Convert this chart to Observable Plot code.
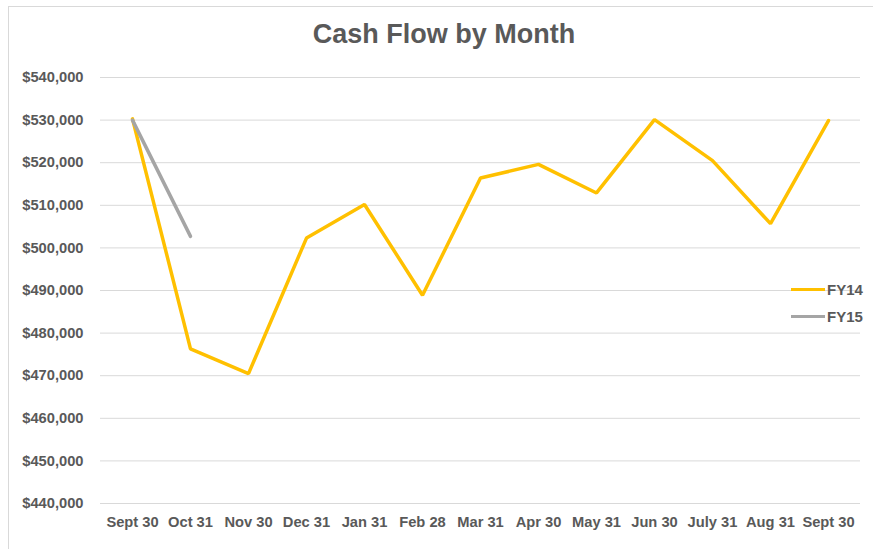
<!DOCTYPE html>
<html>
<head>
<meta charset="utf-8">
<script src="https://cdn.jsdelivr.net/npm/d3@7"></script>
<script src="https://cdn.jsdelivr.net/npm/@observablehq/plot@0.6"></script>
<style>
  html, body { margin: 0; padding: 0; background: #fff; }
  body { width: 873px; height: 549px; position: relative; overflow: hidden; font-family: "Liberation Sans", Arial, sans-serif; }
  #frame { position: absolute; left: 8px; top: 6px; width: 900px; height: 600px; border-left: 1px solid #d9d9d9; border-top: 1px solid #d9d9d9; box-sizing: border-box; }
  #title { position: absolute; left: 0; top: 19px; width: 888px; text-align: center; font-size: 27px; font-weight: bold; color: #595959; }
  #chart { position: absolute; left: 0; top: 0; }
  .leg { position: absolute; left: 791px; font-size: 15px; font-weight: bold; color: #595959; display: flex; align-items: center; }
  .leg span.sw { display: inline-block; width: 34px; height: 3.5px; margin-right: 2px; }
</style>
</head>
<body>
<div id="frame"></div>
<div id="chart"></div>
<div id="title">Cash Flow by Month</div>
<div class="leg" style="top:281px"><span class="sw" style="background:#FFC000"></span>FY14</div>
<div class="leg" style="top:308px"><span class="sw" style="background:#A5A5A5"></span>FY15</div>
<script>
const months = ["Sept 30","Oct 31","Nov 30","Dec 31","Jan 31","Feb 28","Mar 31","Apr 30","May 31","Jun 30","July 31","Aug 31","Sept 30"];
const fy14 = [530300, 476300, 470500, 502300, 510200, 488900, 516400, 519600, 512900, 530100, 520500, 505700, 529900];
const fy15 = [530000, 502700];
const yTicks = [440000, 450000, 460000, 470000, 480000, 490000, 500000, 510000, 520000, 530000, 540000];

const d14 = fy14.map((v, i) => ({i, v}));
const d15 = fy15.map((v, i) => ({i, v}));

const plot = Plot.plot({
  width: 873,
  height: 549,
  marginLeft: 100,
  marginRight: 13,
  marginTop: 77,
  marginBottom: 46,
  style: { fontFamily: "'Liberation Sans', Arial, sans-serif", background: "transparent", overflow: "visible" },
  x: { type: "point", domain: d3.range(months.length), padding: 0.5, label: null, tickFormat: i => months[i] },
  y: { domain: [440000, 540000], ticks: yTicks, label: null, tickFormat: d3.format("$,") },
  marks: [
    Plot.gridY(yTicks, { stroke: "#d9d9d9", strokeOpacity: 1, strokeWidth: 1 }),
    Plot.axisY(yTicks, { tickSize: 0, tickPadding: 17, fontSize: 14.7, fontWeight: "bold", fill: "#595959", label: null, tickFormat: d3.format("$,") }),
    Plot.axisX({ tickSize: 0, tickPadding: 13, fontSize: 14.7, fontWeight: "bold", fill: "#595959", label: null, tickFormat: i => months[i] }),
    Plot.line(d14, { x: "i", y: "v", stroke: "#FFC000", strokeWidth: 3.5, strokeLinejoin: "miter" }),
    Plot.line(d15, { x: "i", y: "v", stroke: "#A5A5A5", strokeWidth: 3.5 })
  ]
});
document.getElementById("chart").appendChild(plot);
</script>
</body>
</html>
